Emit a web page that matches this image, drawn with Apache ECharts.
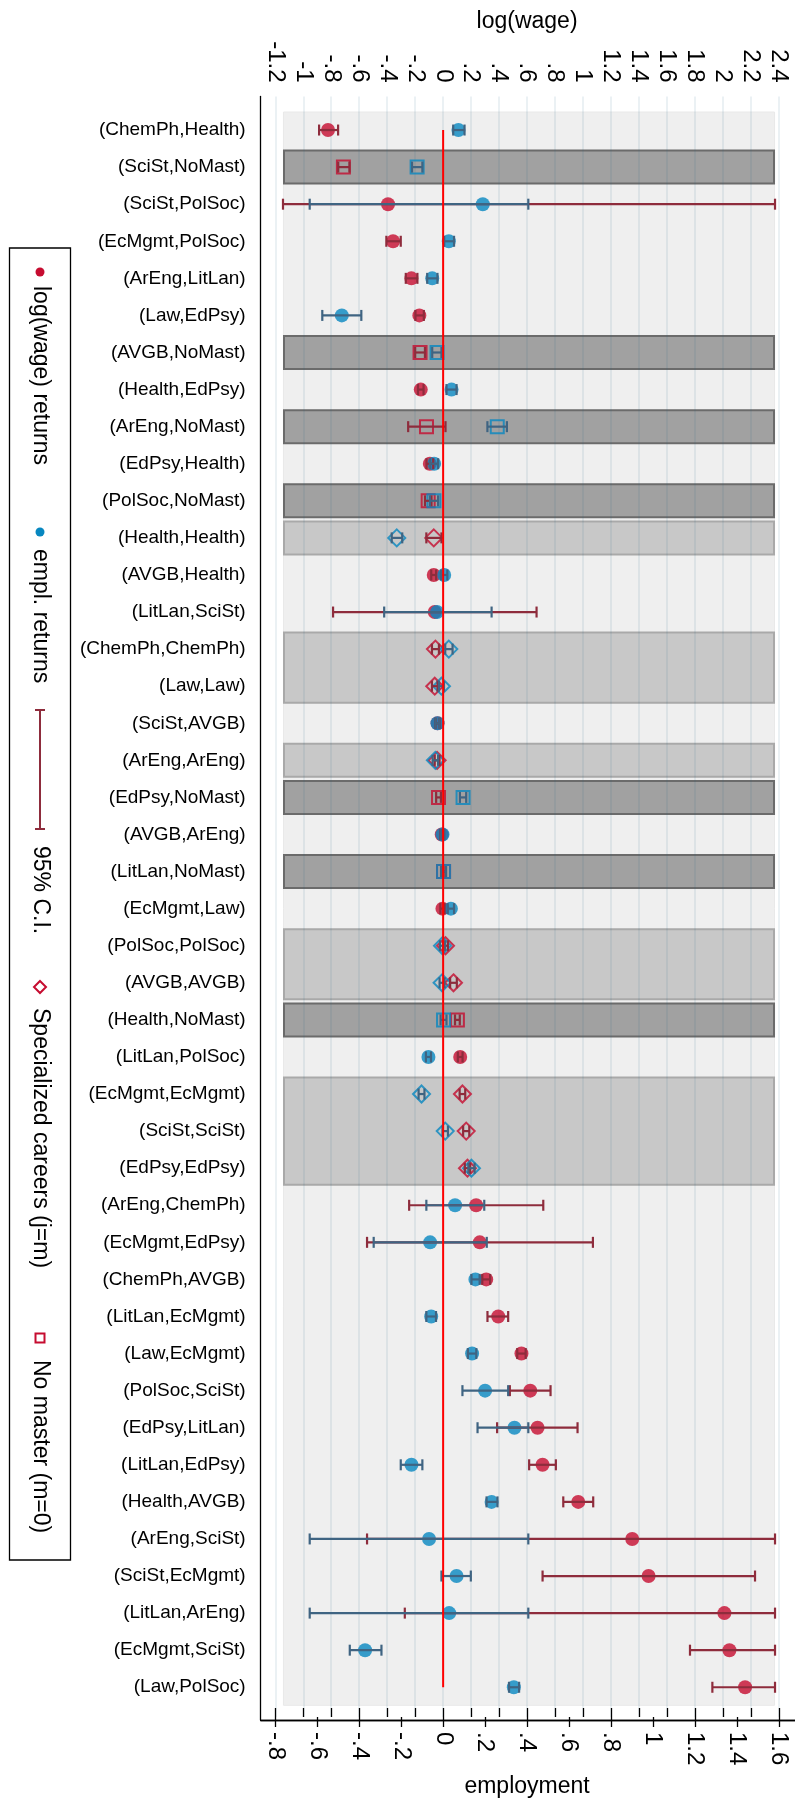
<!DOCTYPE html>
<html>
<head>
<meta charset="utf-8">
<script src="https://cdn.jsdelivr.net/npm/echarts@6/dist/echarts.min.js"></script>
<style>
  html, body { margin: 0; padding: 0; background: #ffffff; }
  #chart { width: 795px; height: 1803px; }
</style>
</head>
<body>
<div id="chart"></div>
<script>
// Pairs of (field of study, field of occupation), top to bottom
const categories = [
  '(ChemPh,Health)', '(SciSt,NoMast)', '(SciSt,PolSoc)', '(EcMgmt,PolSoc)', '(ArEng,LitLan)',
  '(Law,EdPsy)', '(AVGB,NoMast)', '(Health,EdPsy)', '(ArEng,NoMast)', '(EdPsy,Health)',
  '(PolSoc,NoMast)', '(Health,Health)', '(AVGB,Health)', '(LitLan,SciSt)', '(ChemPh,ChemPh)',
  '(Law,Law)', '(SciSt,AVGB)', '(ArEng,ArEng)', '(EdPsy,NoMast)', '(AVGB,ArEng)',
  '(LitLan,NoMast)', '(EcMgmt,Law)', '(PolSoc,PolSoc)', '(AVGB,AVGB)', '(Health,NoMast)',
  '(LitLan,PolSoc)', '(EcMgmt,EcMgmt)', '(SciSt,SciSt)', '(EdPsy,EdPsy)', '(ArEng,ChemPh)',
  '(EcMgmt,EdPsy)', '(ChemPh,AVGB)', '(LitLan,EcMgmt)', '(Law,EcMgmt)', '(PolSoc,SciSt)',
  '(EdPsy,LitLan)', '(LitLan,EdPsy)', '(Health,AVGB)', '(ArEng,SciSt)', '(SciSt,EcMgmt)',
  '(LitLan,ArEng)', '(EcMgmt,SciSt)', '(Law,PolSoc)'
];

// log(wage) returns with 95% confidence bounds
const wageReturn = [
  -0.823, -0.713, -0.394, -0.358, -0.227, -0.170, -0.165, -0.160, -0.119, -0.095,
  -0.107, -0.067, -0.067, -0.060, -0.055, -0.060, -0.040, -0.043, -0.033, -0.010,
   0.003, -0.005,  0.017,  0.074,  0.102,  0.122,  0.138,  0.165,  0.174,  0.236,
   0.262,  0.308,  0.394,  0.560,  0.623,  0.675,  0.711,  0.966,  1.352,  1.469,
   2.011,  2.047,  2.159
];
const wageLow = [
  -0.887, -0.750, -1.145, -0.406, -0.267, -0.198, -0.200, -0.180, -0.250, -0.119,
  -0.130, -0.120, -0.085, -0.787, -0.080, -0.080, -0.055, -0.060, -0.050, -0.020,
  -0.010, -0.020,  0.000,  0.050,  0.085,  0.105,  0.118,  0.143,  0.155, -0.243,
  -0.544,  0.280,  0.317,  0.530,  0.477,  0.386,  0.615,  0.859, -0.544,  0.711,
  -0.274,  1.765,  1.925
];
const wageHigh = [
  -0.751, -0.670,  2.373, -0.303, -0.184, -0.138, -0.130, -0.140,  0.017, -0.071,
  -0.083, -0.012, -0.050,  0.668, -0.030, -0.040, -0.025, -0.026, -0.016,  0.000,
   0.016,  0.010,  0.034,  0.098,  0.119,  0.139,  0.158,  0.187,  0.193,  0.716,
   1.071,  0.336,  0.465,  0.590,  0.768,  0.961,  0.806,  1.073,  2.373,  2.230,
   2.373,  2.373,  2.373
];

// Employment returns with 95% confidence bounds
const emplReturn = [
   0.073, -0.124,  0.189,  0.027, -0.052, -0.483, -0.029,  0.040,  0.258, -0.043,
  -0.044, -0.221,  0.005, -0.029,  0.027, -0.008, -0.027, -0.037,  0.095, -0.003,
   0.002,  0.037, -0.003, -0.005,  0.002, -0.070, -0.103,  0.010,  0.135,  0.057,
  -0.062,  0.154, -0.057,  0.138,  0.200,  0.340, -0.151,  0.231, -0.067,  0.064,
   0.029, -0.372,  0.337
];
const emplLow = [
   0.048, -0.148, -0.636,  0.005, -0.076, -0.576, -0.052,  0.016,  0.211, -0.063,
  -0.063, -0.245, -0.010, -0.281,  0.010, -0.020, -0.037, -0.050,  0.080, -0.012,
  -0.010,  0.022, -0.015, -0.017, -0.012, -0.082, -0.117, -0.003,  0.120, -0.080,
  -0.331,  0.135, -0.080,  0.118,  0.092,  0.164, -0.202,  0.207, -0.636, -0.008,
  -0.636, -0.445,  0.314
];
const emplHigh = [
   0.102, -0.099,  0.406,  0.052, -0.027, -0.390, -0.008,  0.064,  0.304, -0.024,
  -0.024, -0.195,  0.020,  0.231,  0.045,  0.004, -0.017, -0.024,  0.110,  0.006,
   0.014,  0.052,  0.009,  0.007,  0.016, -0.058, -0.089,  0.023,  0.150,  0.196,
   0.208,  0.174, -0.034,  0.158,  0.310,  0.406, -0.099,  0.259,  0.406,  0.132,
   0.406, -0.294,  0.362
];

// Axis ranges (log(wage) on top, employment at the bottom)
const wageAxis = { min: -1.2, max: 2.4, step: 0.2 };
const emplAxis = { min: -0.8, max: 1.6, step: 0.2 };

const legendLabels = ['log(wage) returns', 'empl. returns', '95% C.I.',
  'Specialized careers (j=m)', 'No master (m=0)'];

// ---------------------------------------------------------------- styling
const FONT = "'Liberation Sans', Arial, Helvetica, sans-serif";
const RED = '#c60c30';
const BLUE = '#0787c0';
const RED_CI = '#8e2c3c';
const BLUE_CI = '#3f6482';
const BAND_X = [-1.145, 2.373];          // extent of the row shading, log(wage) units
const SHADE = {
  plain:  { fill: '#efefef', stroke: '#e9e9e9' },
  spec:   { fill: '#c8c8c8', stroke: '#a9a9a9' },
  nomast: { fill: '#a1a1a1', stroke: '#6b6b6b' }
};

function rowKind(label) {
  const parts = label.slice(1, -1).split(',');
  if (parts[1] === 'NoMast') return 'nomast';
  if (parts[0] === parts[1]) return 'spec';
  return 'plain';
}
const kinds = categories.map(rowKind);

// consecutive runs of shaded rows, drawn as one box each
const shadeRuns = [['plain', 0, categories.length - 1]];
for (let i = 0; i < kinds.length; i++) {
  if (kinds[i] === 'plain') continue;
  const last = shadeRuns[shadeRuns.length - 1];
  if (shadeRuns.length > 1 && last[0] === kinds[i] && last[2] === i - 1) last[2] = i;
  else shadeRuns.push([kinds[i], i, i]);
}

function stataNum(v) {
  const s = String(+(+v).toFixed(2));
  return s.replace(/^(-?)0\./, '$1.');
}

function markerItem(x, i, kind, color) {
  if (kind === 'plain') {
    return { value: [x, i], symbol: 'circle', symbolSize: 14, itemStyle: { color: color } };
  }
  if (kind === 'spec') {
    return { value: [x, i], symbol: 'diamond', symbolSize: [17, 17],
      itemStyle: { color: 'rgba(0,0,0,0)', borderColor: color, borderWidth: 2 } };
  }
  return { value: [x, i], symbol: 'rect', symbolSize: 13,
    itemStyle: { color: 'rgba(0,0,0,0)', borderColor: color, borderWidth: 2 } };
}

function ciRenderer(color) {
  return function (params, api) {
    const row = api.value(1);
    const a = api.coord([api.value(0), row]);
    const b = api.coord([api.value(2), row]);
    const cap = 5.5;
    const st = { stroke: color, lineWidth: 2.2 };
    return {
      type: 'group',
      children: [
        { type: 'line', shape: { x1: a[0], y1: a[1], x2: b[0], y2: b[1] }, style: st },
        { type: 'line', shape: { x1: a[0], y1: a[1] - cap, x2: a[0], y2: a[1] + cap }, style: st },
        { type: 'line', shape: { x1: b[0], y1: b[1] - cap, x2: b[0], y2: b[1] + cap }, style: st }
      ]
    };
  };
}

function shadeRenderer(params, api) {
  const kind = shadeRuns[params.dataIndex][0];
  const first = api.value(1), last = api.value(2);
  const band = Math.abs(api.coord([0, 1])[1] - api.coord([0, 0])[1]);
  const half = kind === 'plain' ? band * 0.5 : band * 0.472;
  const x0 = api.coord([BAND_X[0], first])[0];
  const x1 = api.coord([BAND_X[1], first])[0];
  const y0 = api.coord([0, first])[1] - half;
  const y1 = api.coord([0, last])[1] + half;
  const lw = kind === 'plain' ? 1 : 2;
  return {
    type: 'rect',
    shape: { x: x0 + lw / 2, y: y0 + lw / 2, width: x1 - x0 - lw, height: y1 - y0 - lw },
    style: { fill: SHADE[kind].fill, stroke: SHADE[kind].stroke, lineWidth: lw }
  };
}

const chart = echarts.init(document.getElementById('chart'), null, { renderer: 'canvas' });

const tickLabelTop = {
  rotate: -90, fontSize: 24, color: '#000', fontFamily: FONT, margin: 14,
  formatter: stataNum
};
const tickLabelBottom = Object.assign({}, tickLabelTop, { margin: 15 });
const tickStyle = { show: true, length: 9, lineStyle: { color: '#000', width: 1.3 } };
const off = { show: false };

// legend drawn as a vertical, rotated key
const LX = 40;
const legendText = (label, y) => ({
  type: 'text', x: LX, y: y, rotation: -Math.PI / 2,
  style: { text: label, fontSize: 23, fontFamily: FONT, fill: '#000', align: 'left', verticalAlign: 'middle' }
});

chart.setOption({
  animation: false,
  backgroundColor: '#ffffff',
  grid: [
    { left: 275.3, right: 16.2, top: 111.5, bottom: 97.2 },   // data
    { left: 275.3, right: 16.2, top: 96.5, bottom: 83 },       // ticks, labels, grid lines
    { left: 260.7, right: 0, top: 96.5, bottom: 83 }           // frame lines
  ],
  xAxis: [
    { gridIndex: 0, type: 'value', min: wageAxis.min, max: wageAxis.max, show: false },
    { gridIndex: 0, type: 'value', min: emplAxis.min, max: emplAxis.max, show: false },
    {
      gridIndex: 1, type: 'value', position: 'top', z: 2,
      min: wageAxis.min, max: wageAxis.max, interval: wageAxis.step,
      axisLine: off, axisTick: tickStyle, axisLabel: tickLabelTop,
      splitLine: { show: true, lineStyle: { color: 'rgba(40,110,130,0.12)', width: 1.5 } },
      name: 'log(wage)', nameLocation: 'middle', nameGap: 62,
      nameTextStyle: { fontSize: 23, color: '#000', fontFamily: FONT }
    },
    {
      gridIndex: 1, type: 'value', position: 'bottom', z: 2,
      min: emplAxis.min, max: emplAxis.max, interval: emplAxis.step,
      axisLine: off, axisTick: Object.assign({}, tickStyle, { length: 10 }), axisLabel: tickLabelBottom,
      splitLine: off,
      name: 'employment', nameLocation: 'middle', nameGap: 58,
      nameTextStyle: { fontSize: 23, color: '#000', fontFamily: FONT }
    },
    {
      gridIndex: 2, type: 'value', position: 'top', min: 0, max: 1,
      axisLine: { show: true, lineStyle: { color: '#000', width: 1.3 } },
      axisTick: off, axisLabel: off, splitLine: off
    },
    {
      gridIndex: 2, type: 'value', position: 'bottom', min: 0, max: 1,
      axisLine: { show: true, lineStyle: { color: '#000', width: 1.3 } },
      axisTick: off, axisLabel: off, splitLine: off
    }
  ],
  yAxis: [
    {
      gridIndex: 0, type: 'category', data: categories, inverse: true, offset: 14.6,
      axisLine: off,
      axisTick: { show: true, alignWithLabel: true, length: 9, lineStyle: { color: '#000', width: 1.3 } },
      axisLabel: { fontSize: 19, color: '#000', fontFamily: FONT, margin: 15, interval: 0 },
      splitLine: off
    },
    { gridIndex: 1, type: 'value', min: 0, max: 1, show: false },
    {
      gridIndex: 2, type: 'value', min: 0, max: 1,
      axisLine: { show: true, lineStyle: { color: '#000', width: 1.3 } },
      axisTick: off, axisLabel: off, splitLine: off
    }
  ],
  series: [
    {
      name: 'shading', type: 'custom', xAxisIndex: 0, yAxisIndex: 0, z: 1, silent: true,
      renderItem: shadeRenderer,
      encode: { x: 0, y: [1, 2] },
      data: shadeRuns.map(r => [BAND_X[0], r[1], r[2]])
    },
    {
      name: 'log(wage) returns', type: 'scatter', xAxisIndex: 0, yAxisIndex: 0, z: 3,
      data: categories.map((c, i) => markerItem(wageReturn[i], i, kinds[i], RED))
    },
    {
      name: 'empl. returns', type: 'scatter', xAxisIndex: 1, yAxisIndex: 0, z: 4,
      data: categories.map((c, i) => markerItem(emplReturn[i], i, kinds[i], BLUE))
    },
    {
      name: 'log(wage) 95% C.I.', type: 'custom', xAxisIndex: 0, yAxisIndex: 0, z: 5,
      renderItem: ciRenderer(RED_CI), encode: { x: [0, 2], y: 1 },
      data: categories.map((c, i) => [wageLow[i], i, wageHigh[i]])
    },
    {
      name: 'empl. 95% C.I.', type: 'custom', xAxisIndex: 1, yAxisIndex: 0, z: 6,
      renderItem: ciRenderer(BLUE_CI), encode: { x: [0, 2], y: 1 },
      data: categories.map((c, i) => [emplLow[i], i, emplHigh[i]])
    },
    {
      name: 'zero', type: 'line', xAxisIndex: 0, yAxisIndex: 0, z: 7,
      symbol: 'none', silent: true,
      lineStyle: { color: '#ff0000', width: 2 },
      data: [[0, 0], [0, categories.length - 1]]
    }
  ],
  graphic: {
    elements: [
      { type: 'rect', shape: { x: 9.5, y: 248, width: 61, height: 1312 },
        style: { fill: '#fff', stroke: '#000', lineWidth: 1.3 } },
      { type: 'circle', shape: { cx: LX, cy: 272, r: 4.5 }, style: { fill: RED } },
      legendText(legendLabels[0], 286),
      { type: 'circle', shape: { cx: LX, cy: 532, r: 4.5 }, style: { fill: BLUE } },
      legendText(legendLabels[1], 549),
      { type: 'group', children: [
        { type: 'line', shape: { x1: LX, y1: 710, x2: LX, y2: 829 }, style: { stroke: RED_CI, lineWidth: 2 } },
        { type: 'line', shape: { x1: LX - 5, y1: 710, x2: LX + 5, y2: 710 }, style: { stroke: RED_CI, lineWidth: 2 } },
        { type: 'line', shape: { x1: LX - 5, y1: 829, x2: LX + 5, y2: 829 }, style: { stroke: RED_CI, lineWidth: 2 } }
      ]},
      legendText(legendLabels[2], 846),
      { type: 'polygon', shape: { points: [[LX, 981], [LX + 6, 987], [LX, 993], [LX - 6, 987]] },
        style: { fill: 'none', stroke: RED, lineWidth: 2 } },
      legendText(legendLabels[3], 1008),
      { type: 'rect', shape: { x: LX - 4.5, y: 1333.5, width: 9, height: 9 },
        style: { fill: 'none', stroke: RED, lineWidth: 2 } },
      legendText(legendLabels[4], 1360)
    ]
  }
});
</script>
</body>
</html>
